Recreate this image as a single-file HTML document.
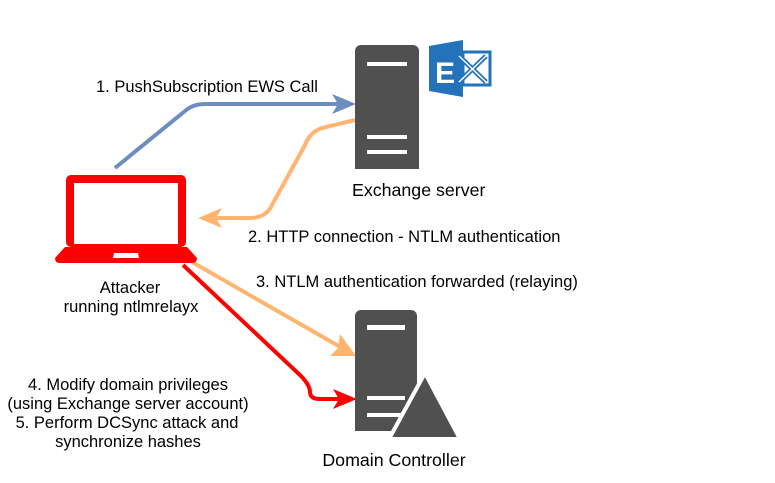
<!DOCTYPE html>
<html><head><style>
body{margin:0;background:#fff;}
svg{display:block;font-family:"Liberation Sans",sans-serif;}
</style></head><body>
<svg width="775" height="483" viewBox="0 0 775 483">
<path d="M115,168 L185,111 Q193,104 205,104 L342,104" fill="none" stroke="#6c8ebf" stroke-width="4"/>
<polygon points="356,104 332,94 338,104 332,114" fill="#6c8ebf"/>
<path d="M355,120 L322,128 Q310,132 305,145 L272,205 Q266,218 250,218 L212,218" fill="none" stroke="#ffb570" stroke-width="4"/>
<polygon points="198,218 222,208 216,218 222,228" fill="#ffb570"/>
<path d="M192,262 L342,348" fill="none" stroke="#ffb570" stroke-width="4"/>
<polygon points="356,356 340,334 338,348 330,356" fill="#ffb570"/>
<path d="M183,265 L300,375 Q310,385 310,392 Q310,399 320,399 L342,399" fill="none" stroke="#ff0000" stroke-width="4"/>
<polygon points="357,399 333,389 339,399 333,409" fill="#ff0000"/>
<rect x="355" y="45" width="64" height="124" rx="6" fill="#505050"/>
<rect x="355" y="155" width="64" height="14" fill="#505050"/>
<rect x="367" y="62" width="40" height="4" fill="#fff"/>
<rect x="367" y="135" width="40" height="4" fill="#fff"/>
<rect x="367" y="150" width="40" height="4" fill="#fff"/>
<polygon points="429,46 463,40 463,97 429,91" fill="#2372ba"/>
<rect x="463" y="52" width="27" height="33" fill="#fff" stroke="#2372ba" stroke-width="3"/>
<text x="435" y="83" font-size="30" font-weight="bold" fill="#fff">E</text>
<path d="M459,56 L486,82 M459,82 L486,56" stroke="#2372ba" stroke-width="5"/>
<path d="M459,56 L486,82 M459,82 L486,56" stroke="#fff" stroke-width="1.5"/>
<rect x="355" y="310" width="62" height="121" rx="6" fill="#505050"/>
<rect x="355" y="420" width="62" height="11" fill="#505050"/>
<rect x="367" y="325" width="38" height="5" fill="#fff"/>
<rect x="367" y="396" width="38" height="4" fill="#fff"/>
<rect x="367" y="413" width="38" height="4" fill="#fff"/>
<polygon points="425,373 460,439 389,439" fill="#505050" stroke="#fff" stroke-width="4" stroke-linejoin="round"/>
<rect x="66" y="175" width="120" height="72" rx="5" fill="#ff0000"/>
<rect x="74" y="183" width="104" height="61" fill="#fff"/>
<path d="M65,247 L187,247 L197,258 Q197,263 192,263 L60,263 Q55,263 55,258 Z" fill="#ff0000"/>
<polygon points="114,253 138,253 139,258 113,258" fill="#fff"/>
<g font-size="16.5" fill="#000">
<text x="96" y="92">1. PushSubscription EWS Call</text>
<text x="352" y="196" font-size="17.8">Exchange server</text>
<text x="248" y="242">2. HTTP connection - NTLM authentication</text>
<text x="256" y="287">3. NTLM authentication forwarded (relaying)</text>
<text x="130" y="293" text-anchor="middle">Attacker</text>
<text x="131" y="312" text-anchor="middle">running ntlmrelayx</text>
<text x="128" y="390" text-anchor="middle">4. Modify domain privileges</text>
<text x="128" y="409" text-anchor="middle">(using Exchange server account)</text>
<text x="127" y="428" text-anchor="middle">5. Perform DCSync attack and</text>
<text x="128" y="447" text-anchor="middle">synchronize hashes</text>
<text x="394" y="466" text-anchor="middle" font-size="17.8">Domain Controller</text>
</g>
</svg>
</body></html>
